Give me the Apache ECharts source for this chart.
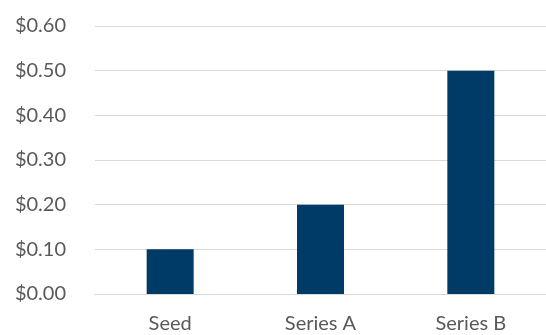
<!DOCTYPE html>
<html>
<head>
<meta charset="utf-8">
<script src="https://cdn.jsdelivr.net/npm/echarts@6/dist/echarts.min.js"></script>
<style>
  html, body { margin: 0; padding: 0; background: #fff; }
  #chart { width: 546px; height: 335px; }
</style>
</head>
<body>
<div id="chart"></div>
<script>
var categories = ['Seed', 'Series A', 'Series B'];
var values = [0.10, 0.20, 0.50];

var chart = echarts.init(document.getElementById('chart'));
chart.setOption({
    animation: false,
    grid: { left: 95, right: -2, top: 26, bottom: 41 },
    xAxis: {
        type: 'category',
        data: categories,
        axisLine: { lineStyle: { color: '#d9d9d9', width: 1 } },
        axisTick: { show: false },
        axisLabel: { color: '#595959', fontSize: 20, fontFamily: 'Lato', margin: 20 }
    },
    yAxis: {
        type: 'value',
        min: 0,
        max: 0.6,
        interval: 0.1,
        axisLine: { show: false },
        axisTick: { show: false },
        splitLine: { lineStyle: { color: '#d9d9d9', width: 1 } },
        axisLabel: {
            color: '#595959', fontSize: 20, fontFamily: 'Lato', margin: 29,
            formatter: function (v) { return '$' + v.toFixed(2); }
        }
    },
    series: [{
        type: 'bar',
        data: values,
        barWidth: 47,
        itemStyle: { color: '#003a66' }
    }]
});
</script>
</body>
</html>
